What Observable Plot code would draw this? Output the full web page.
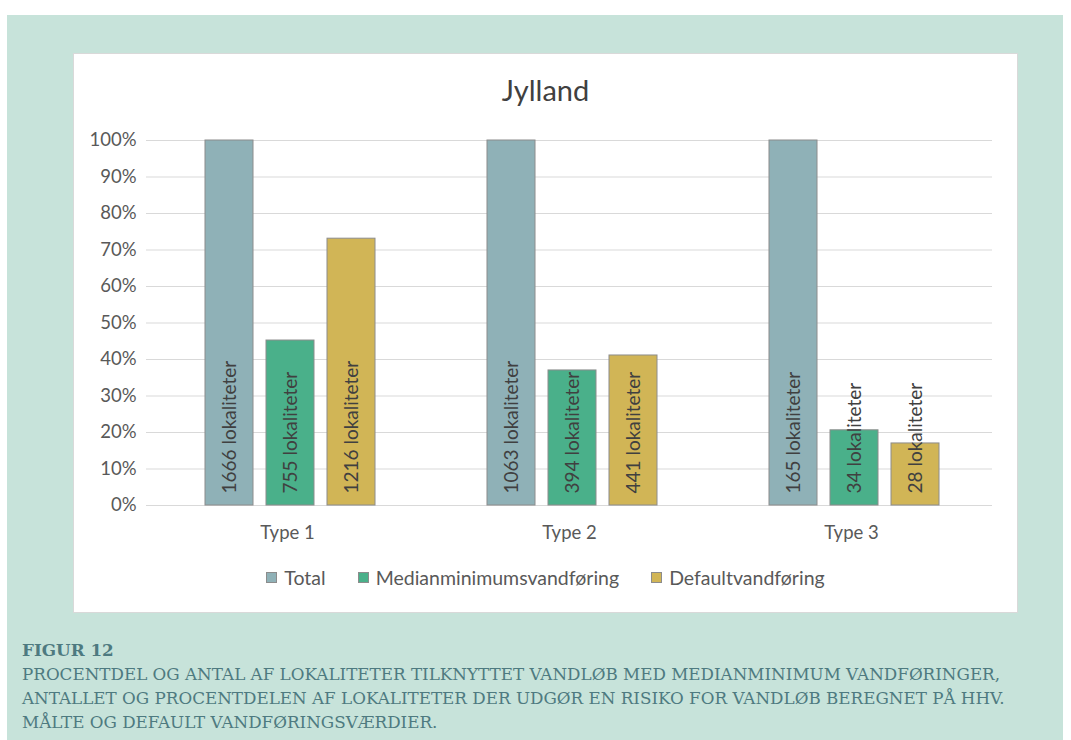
<!DOCTYPE html>
<html>
<head>
<meta charset="utf-8">
<script src="https://cdn.jsdelivr.net/npm/d3@7"></script>
<script src="https://cdn.jsdelivr.net/npm/@observablehq/plot@0.6"></script>
<style>
  html, body { margin: 0; padding: 0; background: #ffffff; width: 1071px; height: 740px; overflow: hidden; }
  #outer { position: absolute; left: 7px; top: 15px; width: 1056px; height: 725px; background: #c7e3da; }
  #panel { position: absolute; left: 66px; top: 38px; width: 943px; height: 558px; background: #ffffff; border: 1px solid #d9d9d9; }
  #title { position: absolute; left: 0; width: 943px; top: 18px; text-align: center; font-family: Lato, sans-serif; font-size: 29px; color: #404040; }
  #chart { position: absolute; left: 0; top: 66px; }
  #legend { position: absolute; left: 0; width: 943px; top: 512px; display: flex; justify-content: center; font-family: Lato, sans-serif; font-size: 19.5px; color: #595959; }
  .item { display: flex; align-items: center; margin: 0 16px; }
  .sw { width: 9px; height: 9px; border: 1px solid #8c8c8c; margin-right: 7px; }
  #caption { position: absolute; left: 15px; top: 623px; font-family: Georgia, "DejaVu Serif", "Liberation Serif", serif; color: #4e7a80; font-size: 16.75px; line-height: 24px; }
  #caption b { font-weight: bold; }
</style>
</head>
<body>
<div id="outer">
  <div id="panel">
    <div id="title">Jylland</div>
    <div id="chart"></div>
    <div id="legend"></div>
  </div>
  <div id="caption"></div>
</div>
<script>
const types = ["Type 1", "Type 2", "Type 3"];
const series = ["Total", "Medianminimumsvandføring", "Defaultvandføring"];
const colors = ["#8fb1b7", "#4ab08a", "#d1b556"];
const totalPct = [100, 100, 100];
const medianPct = [45.2, 37.0, 20.6];
const defaultPct = [73.1, 41.1, 17.0];
const totalCount = [1666, 1063, 165];
const medianCount = [755, 394, 34];
const defaultCount = [1216, 441, 28];
const yTicks = [0, 10, 20, 30, 40, 50, 60, 70, 80, 90, 100];
const captionTitle = "FIGUR 12";
const captionLines = [
  "PROCENTDEL OG ANTAL AF LOKALITETER TILKNYTTET VANDLØB MED MEDIANMINIMUM VANDFØRINGER,",
  "ANTALLET OG PROCENTDELEN AF LOKALITETER DER UDGØR EN RISIKO FOR VANDLØB BEREGNET PÅ HHV.",
  "MÅLTE OG DEFAULT VANDFØRINGSVÆRDIER."
];

const pcts = [totalPct, medianPct, defaultPct];
const counts = [totalCount, medianCount, defaultCount];
const data = [];
types.forEach((t, i) => {
  series.forEach((s, j) => {
    data.push({type: t, series: s, pct: pcts[j][i], count: counts[j][i]});
  });
});

const chart = Plot.plot({
  width: 943,
  height: 430,
  marginLeft: 72,
  marginRight: 25,
  marginTop: 20,
  marginBottom: 45,
  style: {fontFamily: "Lato, sans-serif", fontSize: "18.5px", color: "#595959", background: "transparent"},
  fx: {domain: types, padding: 0, label: null, axis: "bottom", tickSize: 0, tickPadding: 20},
  x: {domain: series, paddingInner: 0.21, paddingOuter: 0.88, align: 0.53, axis: null},
  y: {domain: [0, 100], ticks: yTicks, tickFormat: d => d + "%", tickSize: 0, tickPadding: 10, label: null},
  color: {domain: series, range: colors},
  marks: [
    Plot.ruleY(yTicks, {stroke: "#d9d9d9", strokeWidth: 1}),
    Plot.barY(data, {fx: "type", x: "series", y: "pct", fill: "series", stroke: "#8c8c8c", strokeWidth: 1}),
    Plot.text(data, {fx: "type", x: "series", y: 0, text: d => d.count + " lokaliteter", rotate: -90, textAnchor: "start", lineAnchor: "middle", dy: -12, fill: "#404040", fontSize: 19})
  ]
});
document.getElementById("chart").appendChild(chart);

const legend = document.getElementById("legend");
series.forEach((s, j) => {
  const it = document.createElement("div");
  it.className = "item";
  const sw = document.createElement("div");
  sw.className = "sw";
  sw.style.background = colors[j];
  const lb = document.createElement("span");
  lb.textContent = s;
  it.appendChild(sw); it.appendChild(lb);
  legend.appendChild(it);
});

const cap = document.getElementById("caption");
const b = document.createElement("div");
b.innerHTML = "<b>" + captionTitle + "</b>";
cap.appendChild(b);
captionLines.forEach(l => { const d = document.createElement("div"); d.textContent = l; cap.appendChild(d); });
</script>
</body>
</html>
